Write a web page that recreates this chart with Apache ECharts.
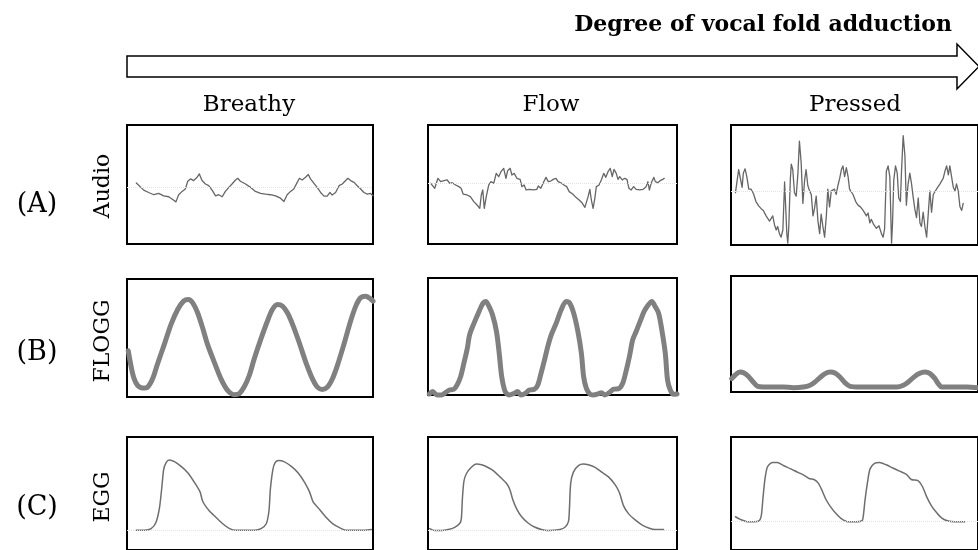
<!DOCTYPE html>
<html>
<head>
<meta charset="utf-8">
<script src="https://cdn.jsdelivr.net/npm/echarts@6/dist/echarts.min.js"></script>
<style>
  html, body { margin: 0; padding: 0; background: #fff; }
  #main { width: 978px; height: 550px; }
</style>
</head>
<body>
<div id="main"></div>
<script>
// column / row labels
const columns = ['Breathy', 'Flow', 'Pressed']
const rowTags = ['(A)', '(B)', '(C)']
const signals = ['Audio', 'FLOGG', 'EGG']
const titleText = 'Degree of vocal fold adduction'

// traces, [time %, amplitude %]
const breathyAudio = [[3.8,51.3],[6.8,45.3],[8.8,43.3],[10.9,41.4],[12.9,42.5],[14.9,40.5],[17.0,39.7],[19.0,36.8],[19.9,35.4],[21.0,41.4],[22.4,44.2],[23.7,46.2],[24.7,52.7],[25.8,54.7],[27.1,53.3],[28.5,56.1],[29.4,58.9],[30.5,53.3],[31.9,50.4],[33.2,49.0],[34.6,45.3],[36.0,40.5],[37.3,41.4],[38.7,39.7],[40.0,44.2],[41.4,47.6],[42.7,50.4],[44.1,53.8],[45.0,55.2],[46.1,52.7],[48.2,50.4],[50.2,47.6],[52.2,44.2],[54.3,42.5],[56.3,41.9],[58.3,41.4],[60.4,40.5],[62.4,38.5],[63.8,35.7],[65.1,41.4],[66.5,44.2],[67.8,46.2],[69.2,51.8],[70.1,55.2],[71.2,53.8],[72.6,56.1],[73.7,58.4],[74.6,54.7],[76.0,51.0],[77.3,47.6],[78.7,43.3],[80.1,40.2],[81.4,40.2],[82.5,43.3],[83.4,41.1],[84.8,43.3],[86.2,49.0],[87.5,50.4],[88.9,53.3],[89.8,55.2],[90.9,53.3],[92.3,51.8],[93.6,49.0],[95.0,46.2],[96.3,43.3],[97.7,41.9],[99.0,42.5],[100,40.5]]
const flowAudio = [[1.1,51.0],[1.7,52.4],[2.7,46.8],[4.0,55.2],[5.1,52.4],[6.4,53.2],[7.7,53.8],[8.8,51.0],[9.7,51.5],[11.1,49.6],[12.4,48.2],[13.3,46.8],[14.1,42.0],[15.7,41.2],[17.0,39.8],[18.4,35.6],[19.7,32.8],[20.8,30.0],[21.4,41.2],[22.0,45.4],[22.6,30.0],[23.4,39.8],[24.4,49.6],[25.3,52.4],[26.4,51.0],[27.4,59.4],[28.4,56.6],[29.3,60.8],[30.4,63.6],[31.3,55.2],[32.0,61.6],[33.0,63.6],[33.7,58.0],[34.6,59.4],[35.7,55.2],[37.0,54.3],[37.7,48.2],[38.6,49.6],[39.4,45.4],[40.7,45.9],[42.3,45.4],[43.7,45.9],[44.3,48.7],[45.3,46.8],[46.3,51.5],[47.4,56.0],[48.3,52.4],[49.3,52.9],[50.3,54.3],[51.4,55.2],[52.3,52.4],[53.7,51.0],[54.6,49.6],[55.7,48.2],[56.7,44.0],[58.1,42.0],[59.4,39.2],[60.7,37.0],[62.0,34.2],[63.0,30.8],[63.6,30.8],[64.3,39.8],[65.0,45.9],[65.6,37.0],[66.3,30.0],[67.0,38.4],[67.6,48.2],[68.7,49.6],[69.6,53.8],[70.6,59.4],[71.4,56.0],[72.3,60.8],[73.2,63.6],[74.0,56.6],[74.7,62.7],[75.6,59.4],[76.3,54.3],[77.0,56.6],[78.0,53.8],[79.0,55.2],[79.9,54.3],[80.7,46.8],[81.6,45.4],[82.6,48.2],[83.6,45.9],[85.0,45.4],[86.3,45.9],[87.6,48.2],[88.3,52.4],[88.9,45.4],[89.6,51.0],[90.7,56.0],[91.3,52.4],[92.3,51.5],[93.2,53.2],[94.3,54.3],[94.9,55.2]]
const pressedAudio = [[1.8,43.6],[2.3,51.0],[3.1,62.9],[3.8,55.5],[4.5,48.1],[5.0,59.9],[5.7,63.5],[6.4,57.0],[7.2,46.6],[8.1,46.6],[9.1,42.7],[10.1,36.2],[11.2,32.6],[12.2,30.3],[13.1,28.8],[14.2,24.3],[14.9,25.8],[15.6,19.9],[16.2,18.4],[16.9,24.3],[17.6,16.9],[18.3,12.5],[18.9,15.4],[19.6,9.5],[20.3,6.5],[21.0,12.5],[21.7,52.5],[22.1,54.0],[22.6,9.5],[23.0,1.5],[23.4,15.4],[24.0,54.0],[24.4,67.4],[25.0,62.9],[25.7,43.6],[26.4,40.7],[27.1,59.9],[27.7,86.6],[28.4,68.8],[29.1,34.7],[29.8,54.0],[30.4,62.9],[31.1,49.6],[31.8,45.1],[32.5,42.1],[33.2,24.3],[33.8,30.3],[34.5,40.7],[35.2,19.9],[35.9,9.5],[36.5,25.8],[37.2,15.4],[37.9,6.5],[38.6,24.3],[39.2,46.6],[39.9,31.8],[40.6,45.1],[41.3,45.1],[41.9,46.6],[42.6,42.1],[43.3,49.6],[44.0,55.5],[44.7,62.9],[45.3,65.9],[46.0,57.0],[46.7,64.4],[47.4,57.0],[48.0,46.6],[48.7,46.6],[49.4,42.1],[50.5,36.2],[51.4,33.2],[52.4,31.8],[53.5,28.8],[54.8,24.3],[55.5,26.7],[56.2,18.4],[56.8,21.4],[57.8,16.9],[58.9,13.9],[59.9,16.0],[60.9,9.5],[61.6,6.5],[62.2,13.9],[62.9,61.4],[63.6,65.9],[64.3,57.0],[65.0,1.5],[65.4,18.4],[65.9,54.0],[66.6,65.9],[67.3,59.9],[67.9,39.2],[68.6,36.2],[69.0,59.9],[69.7,91.1],[70.4,74.8],[71.0,33.2],[71.7,51.0],[72.4,59.9],[73.1,51.0],[73.7,40.7],[74.4,30.3],[75.1,22.8],[75.8,39.2],[76.5,18.4],[77.1,15.4],[77.8,27.3],[78.5,15.4],[79.2,6.5],[79.8,24.3],[80.5,45.1],[81.2,27.3],[81.9,42.1],[82.5,42.1],[83.2,46.6],[83.9,45.1],[84.6,51.0],[85.2,52.5],[85.9,55.5],[86.6,61.4],[87.3,65.9],[88.0,58.5],[88.6,65.9],[89.3,57.0],[90.0,48.1],[90.7,45.1],[91.3,51.0],[92.0,45.1],[92.7,31.8],[93.4,28.8],[94.0,34.7]]

const breathyFlogg = [[0.5,39.2],[1.6,26.6],[2.7,16.8],[4.3,9.8],[6.4,7.6],[8.4,8.4],[10.4,15.4],[12.4,28.0],[15.2,44.8],[17.9,61.6],[20.6,74.2],[23.0,81.2],[24.9,82.6],[26.7,79.8],[28.7,71.4],[30.7,58.8],[32.7,44.8],[35.5,29.4],[38.2,15.4],[40.9,5.6],[43.6,2.0],[45.6,2.8],[47.6,8.4],[49.7,18.2],[51.7,32.2],[54.4,49.0],[57.1,64.4],[59.1,74.2],[61.2,78.4],[63.2,77.0],[65.2,71.4],[67.3,61.6],[70.0,46.2],[72.7,29.4],[75.4,15.4],[77.4,8.4],[79.4,6.4],[81.5,8.4],[83.5,15.4],[85.5,26.6],[88.2,44.8],[90.9,64.4],[93.0,77.0],[94.9,84.0],[97.0,85.4],[99.0,83.2],[100,81.2]]
const flowFlogg = [[0.5,0.9],[1.9,2.9],[3.6,0],[5.4,0],[7.0,2.0],[8.6,4.3],[10.4,4.9],[11.7,8.6],[13.1,15.7],[14.4,27.1],[15.8,40.0],[16.7,51.4],[18.5,61.4],[20.5,71.4],[22.1,78.6],[23.2,80.0],[24.5,75.7],[25.9,68.6],[27.5,54.3],[28.6,35.7],[29.6,15.7],[31.0,2.9],[32.6,0],[34.6,1.4],[36.0,2.9],[37.3,0],[39.1,1.4],[40.7,4.3],[42.7,4.9],[44.1,8.6],[45.4,18.6],[46.8,30.0],[48.1,41.4],[49.5,51.4],[51.5,61.4],[53.5,72.9],[55.5,80.0],[56.9,78.6],[58.5,70.0],[60.2,54.3],[61.6,35.7],[62.5,15.7],[63.6,5.7],[65.0,0.9],[66.3,0],[68.3,0.9],[69.7,2.0],[71.0,0],[72.8,2.0],[74.4,4.9],[76.8,5.7],[78.2,10.0],[79.5,20.0],[80.9,32.9],[82.2,47.1],[83.6,54.3],[85.2,62.9],[86.8,71.4],[88.5,77.1],[89.9,80.0],[91.2,75.7],[92.6,70.0],[93.9,55.7],[95.3,35.7],[96.2,12.9],[97.3,4.3],[98.7,0.6],[100,0.9]]
const pressedFlogg = [[0.3,11.5],[1.6,14.4],[3.6,17.3],[5.3,16.4],[7.0,13.5],[9.0,8.6],[10.7,4.9],[13.1,4.3],[17.1,4.3],[21.2,4.3],[25.2,3.7],[29.3,4.3],[32.0,5.8],[34.0,8.6],[36.0,12.4],[38.1,15.9],[40.1,17.3],[42.1,16.4],[44.1,13.0],[46.2,7.8],[48.2,4.9],[52.2,4.3],[57.6,4.3],[63.0,4.3],[67.1,4.3],[69.8,5.8],[71.8,8.6],[73.8,12.4],[76.2,15.9],[78.5,17.3],[80.6,15.9],[82.6,11.5],[83.9,7.2],[85.3,4.3],[90.0,4.3],[95.4,4.3],[100,3.7]]

const breathyEgg = [[3.7,17.5],[7.1,17.5],[9.8,18.9],[11.8,24.6],[13.2,37.3],[14.1,54.2],[14.9,71.2],[15.9,77.4],[17.2,79.7],[19.3,78.2],[22.0,74.0],[24.7,68.4],[27.4,59.9],[29.7,51.4],[30.8,42.9],[33.5,34.5],[36.2,28.8],[38.9,23.2],[41.7,18.9],[44.4,17.5],[47.8,17.5],[51.8,17.5],[54.5,18.9],[56.6,23.2],[57.7,34.5],[58.3,54.2],[59.3,71.2],[60.2,77.4],[61.6,79.1],[63.8,78.2],[66.8,74.0],[69.5,68.4],[72.2,59.9],[74.2,51.4],[75.6,42.9],[78.3,35.9],[81.0,28.8],[83.7,23.2],[86.4,19.8],[89.1,17.5],[92.5,17.5],[96.6,17.5],[99.3,18.1]]
const flowEgg = [[0.7,18.9],[2.7,17.2],[5.4,17.2],[8.1,18.1],[10.7,20.1],[12.8,23.7],[13.4,28.0],[13.8,44.9],[14.4,60.5],[15.4,67.5],[17.4,73.2],[19.5,76.0],[21.5,75.4],[23.5,73.7],[26.2,70.3],[28.9,64.7],[31.5,59.0],[32.9,53.4],[34.0,44.9],[35.6,36.4],[37.6,29.4],[40.3,23.7],[43.0,20.1],[45.6,18.1],[47.7,17.2],[50.3,17.5],[53.0,18.1],[55.0,20.1],[56.4,25.1],[56.8,36.4],[57.3,59.0],[58.4,68.9],[60.4,74.6],[62.4,76.0],[64.4,75.4],[67.1,73.2],[69.8,68.9],[72.5,64.7],[75.2,57.6],[76.9,50.6],[78.5,39.3],[80.5,32.2],[83.2,26.6],[85.9,22.3],[88.6,19.5],[91.3,18.1],[94.6,18.1]]
const pressedEgg = [[1.8,29.4],[3.8,27.1],[6.5,25.1],[9.2,25.1],[11.5,26.0],[12.3,30.8],[12.9,44.9],[13.7,61.9],[14.7,73.2],[16.7,77.4],[18.7,77.4],[21.4,74.6],[24.2,71.8],[26.9,68.9],[29.6,66.1],[31.6,63.3],[33.6,62.4],[35.4,59.0],[37.0,52.0],[38.4,44.9],[40.4,37.9],[42.5,32.2],[44.5,28.0],[47.2,25.1],[50.6,25.1],[53.1,26.0],[53.6,30.8],[54.3,44.9],[55.4,61.9],[56.3,71.8],[58.1,76.6],[60.1,77.4],[62.8,75.4],[65.5,72.6],[68.2,69.8],[71.0,67.0],[73.0,62.4],[75.7,61.3],[77.5,56.2],[79.1,47.7],[81.1,39.3],[83.2,33.1],[85.2,28.5],[87.9,25.7],[90.6,25.1],[94.7,25.1]]

// faint reference line level in each panel (row-major)
const baselines = [47.6, 51, 45, null, null, null, 17.5, 17.5, 25.1]

const traces = [
  breathyAudio, flowAudio, pressedAudio,
  breathyFlogg, flowFlogg, pressedFlogg,
  breathyEgg, flowEgg, pressedEgg
]

// panel boxes in px
const colLeft = [127, 428, 731]
const colWidth = [246, 249, 248]
const panelTop = [[125, 125, 125], [279, 278, 276], [437, 437, 437]]
const panelHeight = [[119, 119, 120], [118, 117, 116], [118, 118, 118]]

const rowStyle = [
  { color: '#666', width: 1.3, smooth: false },
  { color: '#808080', width: 5, smooth: 0.3 },
  { color: '#6e6e6e', width: 1.5, smooth: 0.25 }
]

const chart = echarts.init(document.getElementById('main'))
const serifFont = '"DejaVu Serif", "Liberation Serif", serif'

const grid = []
const xAxis = []
const yAxis = []
const series = []
for (let r = 0; r < 3; r++) {
  for (let c = 0; c < 3; c++) {
    const i = r * 3 + c
    grid.push({
      left: colLeft[c],
      top: panelTop[r][c],
      width: colWidth[c],
      height: panelHeight[r][c],
      show: true,
      borderColor: '#000',
      borderWidth: 2,
      backgroundColor: '#fff'
    })
    xAxis.push({ gridIndex: i, type: 'value', min: 0, max: 100, show: false })
    yAxis.push({ gridIndex: i, type: 'value', min: 0, max: 100, show: false })
    const st = rowStyle[r]
    const s = {
      type: 'line',
      xAxisIndex: i,
      yAxisIndex: i,
      data: traces[i],
      showSymbol: false,
      smooth: st.smooth,
      clip: r !== 1,
      lineStyle: { color: st.color, width: st.width, cap: 'round', join: 'round' },
      silent: true,
      animation: false
    }
    if (baselines[i] != null) {
      s.markLine = {
        silent: true,
        symbol: 'none',
        label: { show: false },
        lineStyle: { color: '#e2e2e2', type: 'dotted', width: 1 },
        data: [{ yAxis: baselines[i] }]
      }
    }
    series.push(s)
  }
}

const graphics = []
// big arrow
graphics.push({
  type: 'polygon',
  shape: {
    points: [[127, 56], [957, 56], [957, 44], [979, 66.5], [957, 89], [957, 77], [127, 77]]
  },
  style: { fill: '#fff', stroke: '#000', lineWidth: 1.5 }
})
graphics.push({
  type: 'text',
  x: 952, y: 25,
  style: {
    text: titleText, font: 'bold 22px ' + serifFont,
    fill: '#000', textAlign: 'right', textVerticalAlign: 'middle'
  }
})
const colCenter = [249, 551, 855]
columns.forEach((t, c) => {
  graphics.push({
    type: 'text', x: colCenter[c], y: 105,
    style: { text: t, font: '23px ' + serifFont, fill: '#000', textAlign: 'center', textVerticalAlign: 'middle' }
  })
})
const rowCenter = [205, 353, 508]
const sigCenter = [186, 341, 497]
rowTags.forEach((t, r) => {
  graphics.push({
    type: 'text', x: 37, y: rowCenter[r],
    style: { text: t, font: '27px ' + serifFont, fill: '#000', textAlign: 'center', textVerticalAlign: 'middle' }
  })
  graphics.push({
    type: 'text', x: 103, y: sigCenter[r], rotation: Math.PI / 2,
    style: { text: signals[r], font: '22px ' + serifFont, fill: '#000', textAlign: 'center', textVerticalAlign: 'middle' }
  })
})

chart.setOption({
  backgroundColor: '#fff',
  animation: false,
  grid, xAxis, yAxis, series,
  graphic: { elements: graphics }
})
</script>
</body>
</html>
